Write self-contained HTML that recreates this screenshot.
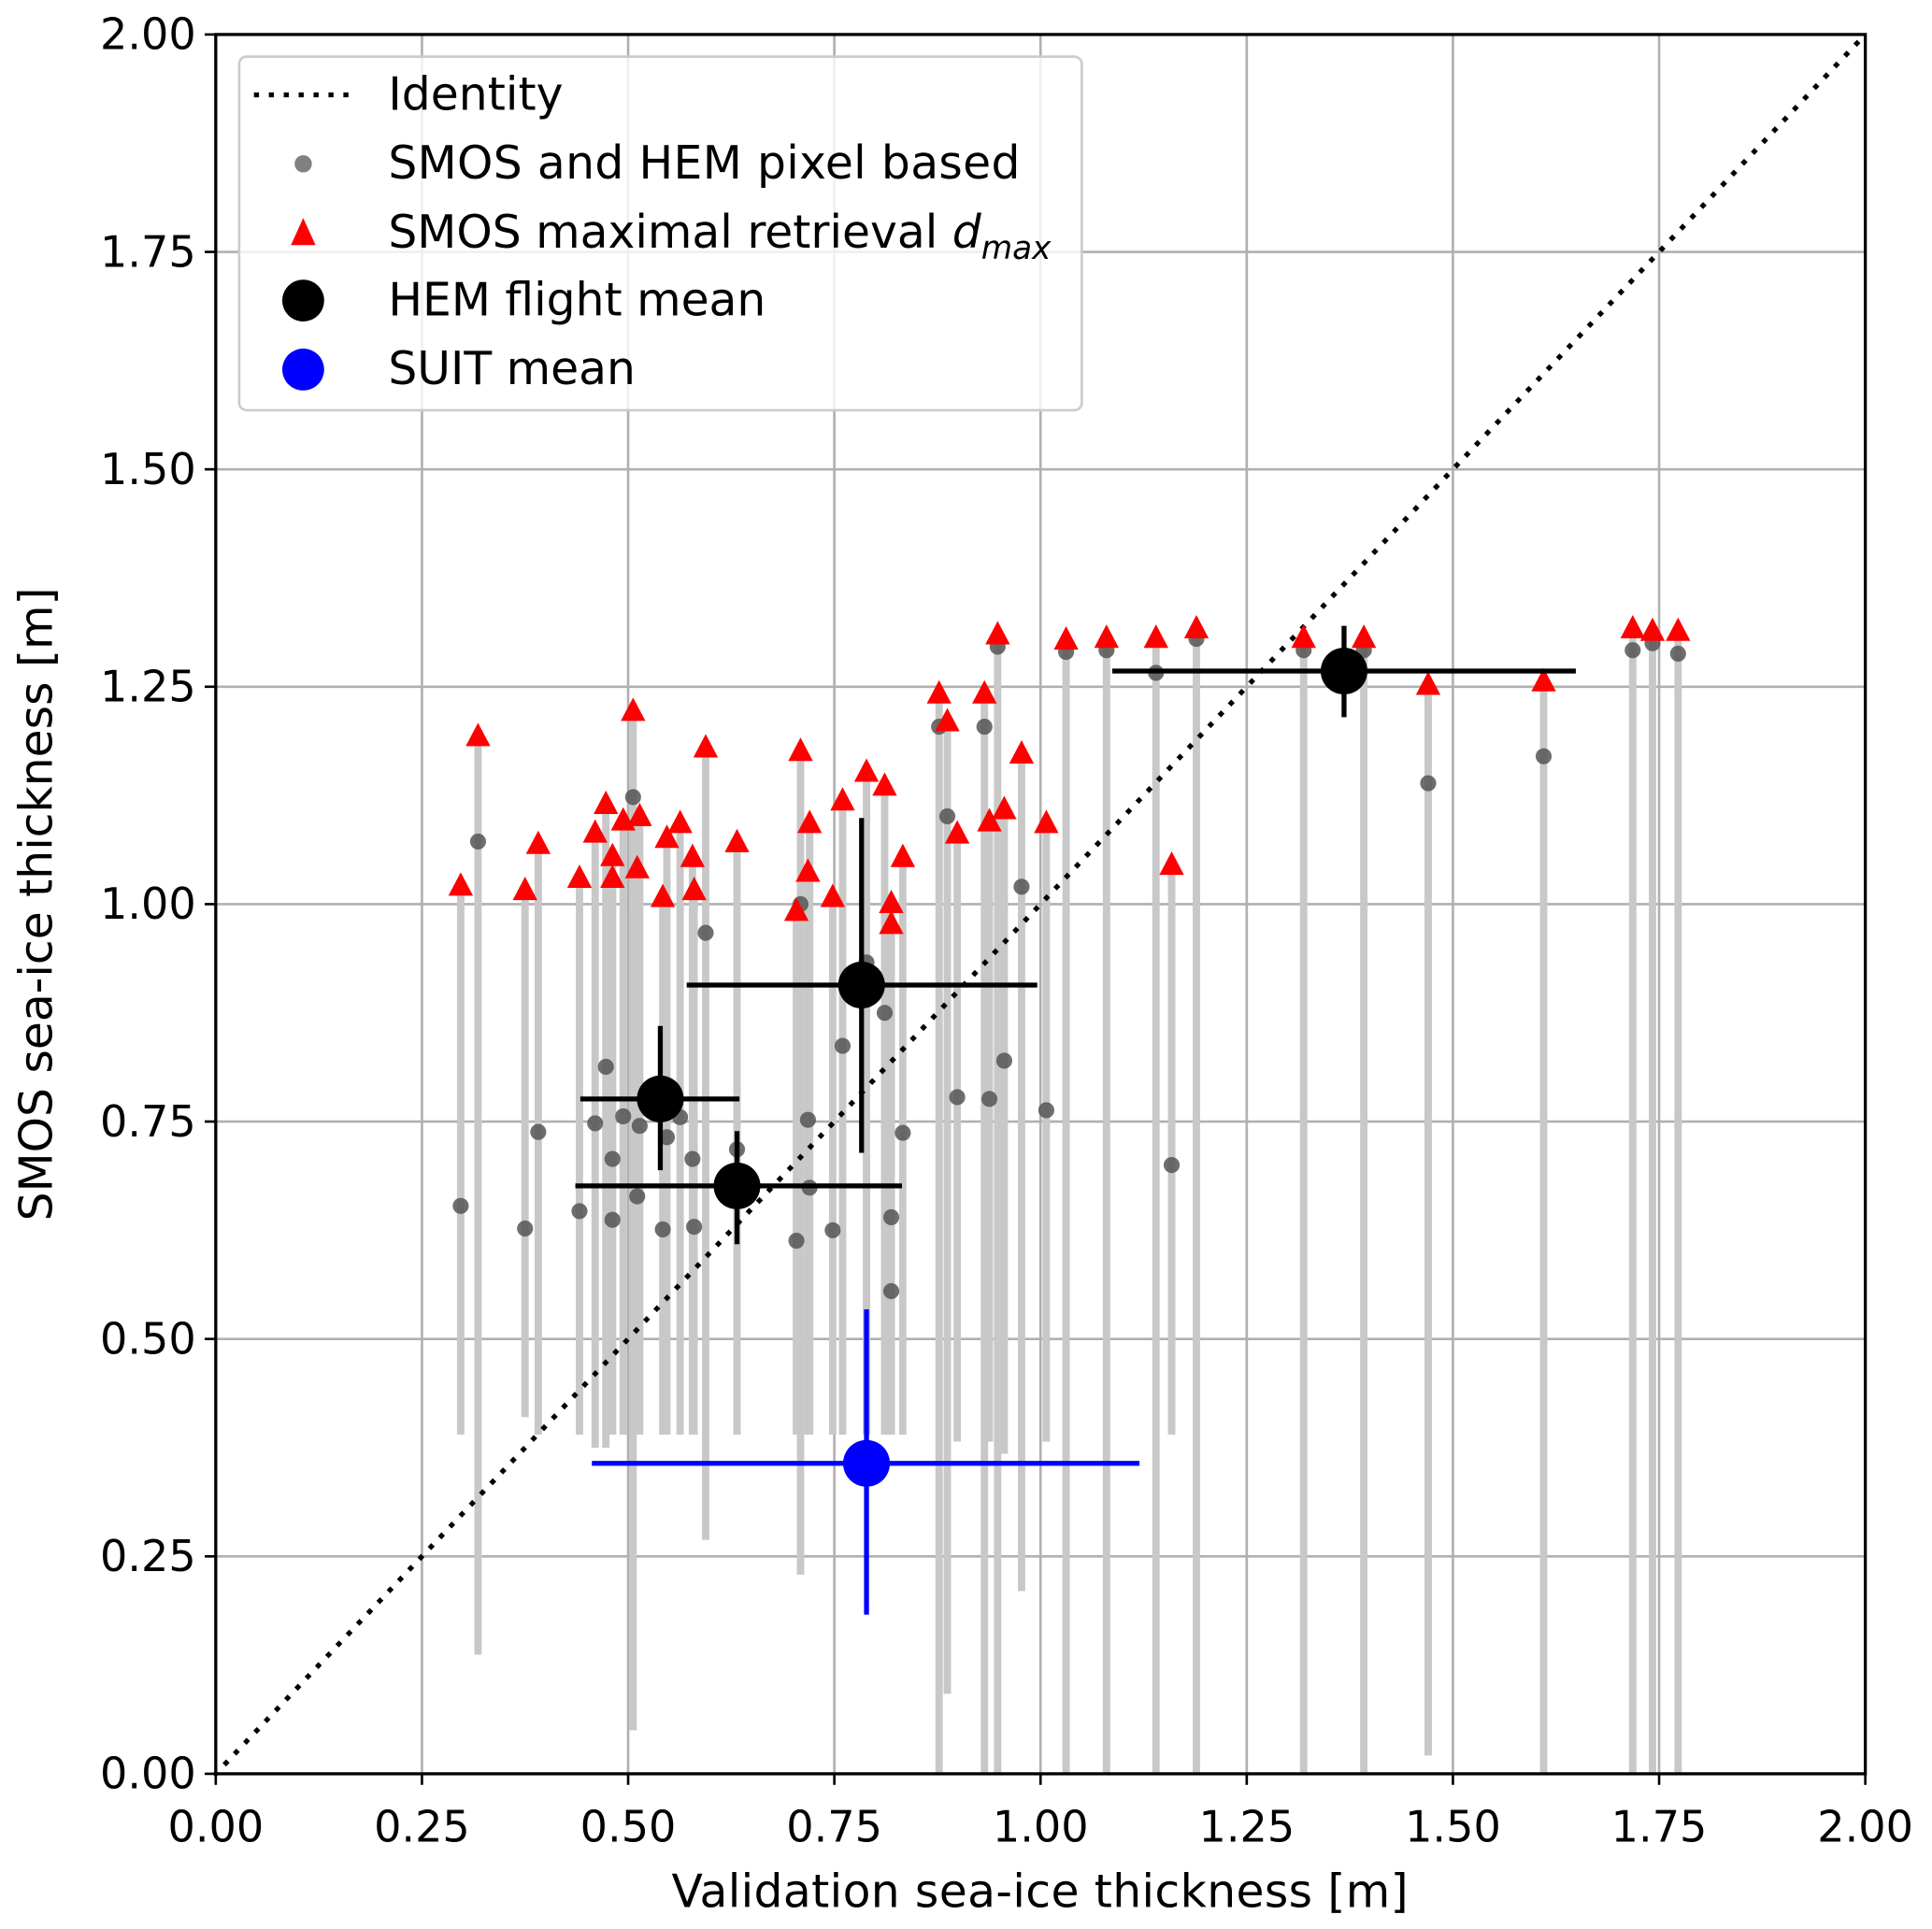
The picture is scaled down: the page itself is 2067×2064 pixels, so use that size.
<!DOCTYPE html>
<html><head><meta charset="utf-8"><style>
html,body{margin:0;padding:0;background:#fff}
svg{display:block}
text{font-family:"DejaVu Sans","Liberation Sans",sans-serif;fill:#000}
</style></head><body>
<svg id="chart" width="2067" height="2064" viewBox="0 0 1568 1566" xmlns="http://www.w3.org/2000/svg">
<g id="grid"></g>
<g id="bars"></g>
<line id="identity" stroke="#000" stroke-width="4" stroke-dasharray="0.1 12" stroke-linecap="square"/>
<g id="dots"></g>
<g id="tris"></g>
<g id="means"></g>
<g id="suit"></g>
<rect x="175" y="28" width="1339" height="1412" fill="none" stroke="#000" stroke-width="2.5"/>
<g id="ticks"></g>
<g>
<rect x="194" y="46" width="684" height="287" rx="6" fill="#fff" fill-opacity="0.8" stroke="#ccc" stroke-width="2"/>
<line x1="208" y1="77" x2="282" y2="77" stroke="#000" stroke-width="4" stroke-dasharray="0.1 12" stroke-linecap="square"/>
<text x="315" y="89" font-size="37" textLength="142">Identity</text>
<circle cx="246" cy="133" r="7" fill="#808080"/>
<text x="315" y="145" font-size="37" textLength="513">SMOS and HEM pixel based</text>
<path d="M246 177 L256 199 L236 199 Z" fill="#f00"/>
<text x="315" y="201" font-size="37">SMOS maximal retrieval <tspan font-style="italic">d</tspan><tspan font-style="italic" font-size="26" dy="9">max</tspan></text>
<circle cx="246" cy="244" r="17" fill="#000"/>
<text x="315" y="256" font-size="37">HEM flight mean</text>
<circle cx="246" cy="300" r="17" fill="#00f"/>
<text x="315" y="312" font-size="37">SUIT mean</text>
</g>
<text x="844" y="1548" font-size="37" text-anchor="middle" textLength="598">Validation sea-ice thickness [m]</text>
<text transform="translate(42,734) rotate(-90)" font-size="37" text-anchor="middle">SMOS sea-ice thickness [m]</text>
</svg>
<script>
const ticks = [0, 0.25, 0.5, 0.75, 1.0, 1.25, 1.5, 1.75, 2.0];
const tickLabels = ["0.00","0.25","0.50","0.75","1.00","1.25","1.50","1.75","2.00"];
const pxX = [0.297,0.318,0.375,0.391,0.441,0.460,0.473,0.481,0.481,0.494,0.506,0.511,0.514,0.542,0.547,0.563,0.578,0.580,0.594,0.632,0.704,0.709,0.718,0.720,0.748,0.760,0.789,0.811,0.819,0.819,0.833,0.877,0.887,0.899,0.932,0.938,0.948,0.956,0.977,1.007,1.031,1.080,1.140,1.159,1.189,1.319,1.392,1.470,1.610,1.718,1.742,1.773];
const pxY = [0.653,1.072,0.627,0.738,0.647,0.748,0.813,0.707,0.637,0.756,1.123,0.664,0.745,0.626,0.732,0.755,0.707,0.629,0.967,0.718,0.613,1.000,0.752,0.674,0.625,0.837,0.933,0.875,0.640,0.555,0.737,1.204,1.101,0.778,1.204,0.776,1.296,0.820,1.020,0.763,1.290,1.292,1.266,0.700,1.305,1.292,1.292,1.139,1.170,1.292,1.300,1.288];
const dMax = [1.021,1.193,1.016,1.069,1.030,1.082,1.115,1.030,1.055,1.096,1.222,1.041,1.101,1.008,1.076,1.093,1.054,1.016,1.180,1.071,0.992,1.176,1.037,1.093,1.008,1.119,1.152,1.136,0.977,1.001,1.054,1.242,1.210,1.081,1.242,1.095,1.310,1.109,1.173,1.093,1.304,1.306,1.306,1.045,1.317,1.306,1.306,1.252,1.256,1.317,1.314,1.314];
const dMin = [0.390,0.137,0.410,0.390,0.390,0.375,0.375,0.390,0.390,0.390,0.050,0.390,0.390,0.390,0.390,0.390,0.390,0.390,0.269,0.390,0.390,0.229,0.390,0.390,0.390,0.390,0.390,0.390,0.390,0.390,0.390,0,0.092,0.382,0,0.382,0,0.368,0.210,0.382,0,0,0,0.390,0,0,0,0.021,0,0,0,0];
const meanX = [0.539,0.632,0.783,1.368];
const meanY = [0.776,0.676,0.907,1.268];
const meanXlo = [0.442,0.436,0.571,1.087];
const meanXhi = [0.635,0.832,0.996,1.649];
const meanYlo = [0.694,0.609,0.714,1.215];
const meanYhi = [0.860,0.739,1.099,1.320];
const suitX = [0.789], suitY = [0.357], suitXlo = [0.456], suitXhi = [1.120], suitYlo = [0.183], suitYhi = [0.534];

const X0=175,X1=1514,Y0=1440,Y1=28;
const sx = v => X0 + v/2*(X1-X0);
const sy = v => Y0 - v/2*(Y0-Y1);
const NS="http://www.w3.org/2000/svg";
function mk(tag, parent, attrs){const e=document.createElementNS(NS,tag);for(const k in attrs)e.setAttribute(k,attrs[k]);parent.appendChild(e);return e;}

const grid=document.getElementById('grid'), tk=document.getElementById('ticks');
ticks.forEach((t,i)=>{
  let g1=mk('line',grid,{x1:sx(t),x2:sx(t),y1:Y1,y2:Y0,stroke:'#b0b0b0','stroke-width':2});
  
  
  let g2=mk('line',grid,{x1:X0,x2:X1,y1:sy(t),y2:sy(t),stroke:'#b0b0b0','stroke-width':2});
  
  
  mk('line',tk,{x1:sx(t),x2:sx(t),y1:Y0,y2:Y0+9,stroke:'#000','stroke-width':2});
  mk('line',tk,{x1:X0-9,x2:X0,y1:sy(t),y2:sy(t),stroke:'#000','stroke-width':2});
  let a=mk('text',tk,{x:sx(t),y:Y0+55,'font-size':35,'text-anchor':'middle'});a.textContent=tickLabels[i];
  
  
  let b=mk('text',tk,{x:X0-16,y:sy(t)+12,'font-size':35,'text-anchor':'end'});b.textContent=tickLabels[i];
  
  
});
const id=document.getElementById('identity');
id.setAttribute('x1',sx(0));id.setAttribute('y1',sy(0));id.setAttribute('x2',sx(2));id.setAttribute('y2',sy(2));

const bars=document.getElementById('bars'),dots=document.getElementById('dots'),tris=document.getElementById('tris');
pxX.forEach((x,i)=>{
  let b=mk('line',bars,{x1:sx(x),x2:sx(x),y1:sy(dMin[i]),y2:sy(dMax[i]),stroke:'#c8c8c8','stroke-width':6});
  
  
  let d=mk('circle',dots,{cx:sx(x),cy:sy(pxY[i]),r:6.5,fill:'#555','fill-opacity':0.85});
  
  
  const cx=sx(x),cy=sy(dMax[i]);
  let t=mk('path',tris,{d:`M${cx} ${cy-11} L${cx+10} ${cy+8} L${cx-10} ${cy+8} Z`,fill:'#f00'});
  
  
});
function means(g,xs,ys,xl,xh,yl,yh,col,name){
  xs.forEach((x,i)=>{
    mk('line',g,{x1:sx(xl[i]),x2:sx(xh[i]),y1:sy(ys[i]),y2:sy(ys[i]),stroke:col,'stroke-width':4});
    mk('line',g,{x1:sx(x),x2:sx(x),y1:sy(yl[i]),y2:sy(yh[i]),stroke:col,'stroke-width':4});
    let c=mk('circle',g,{cx:sx(x),cy:sy(ys[i]),r:19,fill:col});
    
    
  });
}
means(document.getElementById('means'),meanX,meanY,meanXlo,meanXhi,meanYlo,meanYhi,'#000','hem-flight-mean');
means(document.getElementById('suit'),suitX,suitY,suitXlo,suitXhi,suitYlo,suitYhi,'#00f','suit-mean-point');
</script>
</body></html>
